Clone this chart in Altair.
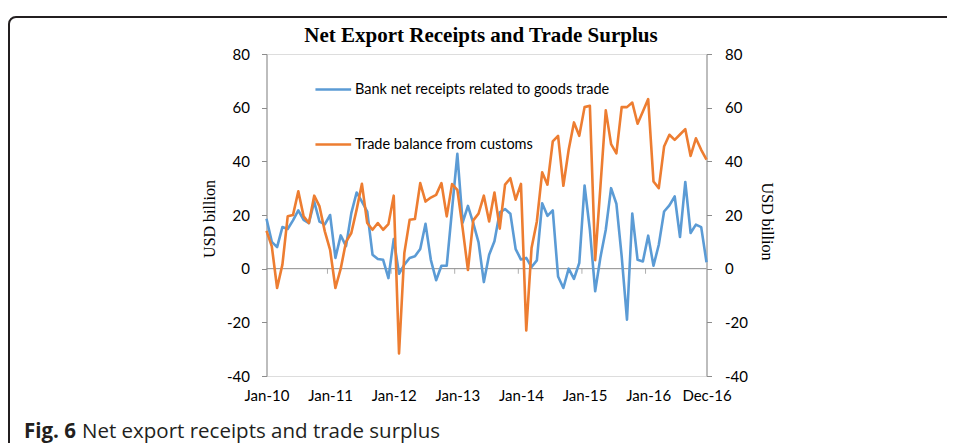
import altair as alt
import pandas as pd

# ---- data (monthly, Jan-2010 .. Dec-2016) ----
months = pd.date_range("2010-01-01", "2016-12-01", freq="MS").strftime("%Y-%m").tolist()

bank_net_receipts = [
    18.6, 10.0, 8.0, 15.5, 14.8, 18.0, 21.7, 18.2, 17.0, 25.0, 17.5, 16.5,
    20.0, 4.0, 12.4, 8.4, 20.7, 28.4, 25.0, 21.3, 5.2, 3.6, 3.3, -3.5,
    11.0, -1.9, 1.5, 4.0, 4.6, 7.3, 16.7, 3.3, -4.3, 1.1, 1.1, 22.0,
    42.8, 17.2, 23.4, 17.0, 9.8, -5.0, 5.2, 10.2, 21.0, 22.2, 20.5, 7.3,
    3.4, 4.0, 0.6, 3.1, 24.4, 19.7, 21.7, -2.9, -7.2, 0.0, -3.8, 2.1,
    31.0, 14.5, -8.4, 4.3, 14.5, 30.0, 24.2, 4.6, -19.0, 20.5, 3.3, 2.7,
    12.3, 1.1, 8.9, 21.3, 23.6, 26.9, 11.8, 32.3, 13.3, 16.4, 15.5, 2.4,
]

trade_balance = [
    14.1, 8.3, -7.2, 1.5, 19.5, 20.0, 28.8, 19.5, 17.0, 27.2, 23.2, 13.9,
    7.0, -7.2, 0.0, 10.0, 13.3, 22.0, 31.6, 17.0, 14.5, 17.0, 14.5, 16.6,
    27.2, -31.6, 5.8, 18.2, 18.5, 31.9, 25.0, 26.5, 27.5, 31.9, 19.5, 31.5,
    29.4, 15.0, -0.5, 18.0, 20.5, 27.2, 17.6, 28.4, 14.9, 31.3, 33.7, 25.7,
    31.6, -23.0, 7.7, 17.6, 35.9, 31.3, 47.4, 49.5, 30.9, 44.3, 54.5, 49.5,
    60.2, 60.7, 3.2, 30.8, 59.0, 46.4, 43.0, 60.2, 60.2, 61.9, 54.0, 58.6,
    63.2, 32.5, 30.0, 45.5, 49.9, 48.0, 50.0, 52.0, 42.0, 48.6, 44.3, 40.6,
]

series_names = ["Bank net receipts related to goods trade", "Trade balance from customs"]
series_colors = ["#5B9BD5", "#ED7D31"]

tick_months = [0, 12, 24, 36, 48, 60, 72, 83]
tick_labels = ["Jan-10", "Jan-11", "Jan-12", "Jan-13", "Jan-14", "Jan-15", "Jan-16", "Dec-16"]
year_bounds = [12 * k - 0.5 for k in range(1, 7)]
y_ticks = [-40, -20, 0, 20, 40, 60, 80]

title_text = "Net Export Receipts and Trade Surplus"
y_title = "USD billion"
caption_bold = "Fig. 6"
caption_rest = "Net export receipts and trade surplus"

# ---- tables ----
n = len(months)
df = pd.DataFrame({
    "idx": list(range(n)) * 2,
    "month": months * 2,
    "value": bank_net_receipts + trade_balance,
    "series": [series_names[0]] * n + [series_names[1]] * n,
})
zero_df = pd.DataFrame({"v": [0]})
bounds_df = pd.DataFrame({"b": year_bounds, "v": [0] * len(year_bounds)})
text_df = pd.DataFrame({"title": [title_text], "bold": [caption_bold], "rest": [caption_rest]})

label_js = "[" + ",".join(f"'{t}'" for t in tick_labels) + "]"
months_js = "[" + ",".join(str(m) for m in tick_months) + "]"

AX = "#8C8C8C"
x_scale = alt.Scale(domain=[0, n - 1], nice=False, zero=False)
y_scale = alt.Scale(domain=[-40, 80], nice=False, zero=False)

x_axis = alt.Axis(
    values=tick_months, labelExpr=f"{label_js}[indexof({months_js}, datum.value)]",
    title=None, domain=False, ticks=False, grid=False, labelPadding=12,
    labelFont="Lato", labelFontSize=15, labelColor="#000", labelAngle=0,
    labelOverlap=False, labelFlush=False, labelBound=False,
)

left_axis = alt.Axis(
    orient="left", values=y_ticks, labelExpr="'' + datum.value", grid=False,
    domainColor=AX, tickColor=AX,
    tickSize=5, labelPadding=12, labelFont="Lato", labelFontSize=15, labelColor="#000",
    title=y_title, titleFont="Liberation Serif", titleFontSize=16, titleFontWeight="normal",
    titleColor="#000", titleAngle=-90, titleAlign="center", titleBaseline="middle",
    titleX=-57.5, titleY=164.5,
)
right_axis = alt.Axis(
    orient="right", values=y_ticks, labelExpr="'' + datum.value", grid=False,
    domainColor=AX, tickColor=AX,
    tickSize=5, labelPadding=13, labelFont="Lato", labelFontSize=15, labelColor="#000",
    title=y_title, titleFont="Liberation Serif", titleFontSize=16, titleFontWeight="normal",
    titleColor="#000", titleAngle=90, titleAlign="center", titleBaseline="middle",
    titleX=59.5, titleY=167,
)

lines = alt.Chart(df).mark_line(strokeWidth=2.6, strokeJoin="round").encode(
    x=alt.X("idx:Q", scale=x_scale, axis=x_axis),
    y=alt.Y("value:Q", scale=y_scale, axis=left_axis),
    color=alt.Color(
        "series:N",
        scale=alt.Scale(domain=series_names, range=series_colors),
        legend=alt.Legend(
            orient="none", legendX=47.3, legendY=16, title=None, symbolType="stroke",
            symbolSize=1275, symbolStrokeWidth=2.6, labelFont="Lato", labelFontSize=14.5,
            labelColor="#000", labelLimit=0, rowPadding=29, labelOffset=2.2, padding=0,
        ),
    ),
    order="idx:Q",
)

zero_line = alt.Chart(zero_df).mark_rule(color=AX, strokeWidth=1).encode(
    y=alt.Y("v:Q", scale=y_scale, axis=right_axis),
)

year_ticks = alt.Chart(bounds_df).mark_tick(
    orient="vertical", color=AX, thickness=1, size=5, yOffset=2.5
).encode(
    x=alt.X("b:Q", scale=x_scale, axis=x_axis),
    y=alt.Y("v:Q", scale=y_scale, axis=None),
)

frame = alt.Chart(text_df).mark_rect(
    filled=False, stroke="#231F20", strokeWidth=2, cornerRadius=7
).encode(
    x=alt.value(-257.5), x2=alt.value(1000), y=alt.value(-37), y2=alt.value(700),
)

title_mark = alt.Chart(text_df).mark_text(
    align="center", baseline="alphabetic", font="Liberation Serif", fontSize=21,
    fontWeight="bold", color="#000",
).encode(x=alt.value(214.5), y=alt.value(-12), text="title:N")

cap_bold = alt.Chart(text_df).mark_text(
    align="left", baseline="alphabetic", font="Open Sans", fontSize=20.5,
    fontWeight="bold", color="#231F20",
).encode(x=alt.value(-242.5), y=alt.value(384), text="bold:N")

cap_rest = alt.Chart(text_df).mark_text(
    align="left", baseline="alphabetic", font="Open Sans", fontSize=20.5,
    color="#231F20",
).encode(x=alt.value(-184.5), y=alt.value(384), text="rest:N")

chart = alt.layer(
    frame, zero_line, year_ticks, lines, title_mark, cap_bold, cap_rest
).resolve_scale(y="independent").properties(
    width=440,
    height=322,
    autosize=alt.AutoSizeParams(type="none"),
    padding={"left": 258.5, "top": 46, "right": 240.5, "bottom": 67},
).configure_view(stroke=None).configure(background="white")

chart.save("out.html", embed_options={"renderer": "svg", "actions": False})
